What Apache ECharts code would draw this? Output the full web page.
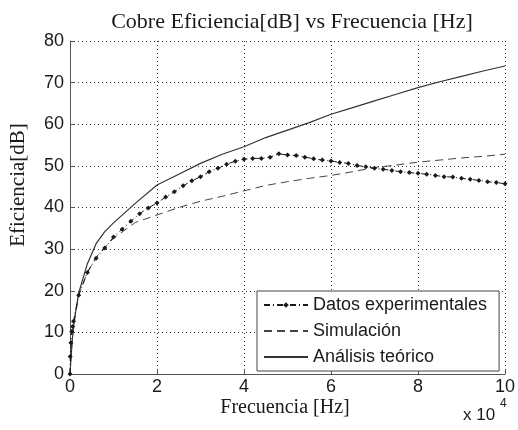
<!DOCTYPE html>
<html>
<head>
<meta charset="utf-8">
<script src="https://cdn.jsdelivr.net/npm/echarts@6/dist/echarts.min.js"></script>
<style>
  html, body { margin: 0; padding: 0; background: #fff; }
  #chart { width: 518px; height: 430px; }
</style>
</head>
<body>
<div id="chart"></div>
<script>
// frequencies in Hz, efficiency in dB
const expFreq = [0, 50, 200, 400, 600, 800, 2000, 4000, 6000, 8000, 10000, 12000, 14000, 16000, 18000,
  20000, 22000, 24000, 26000, 28000, 30000, 32000, 34000, 36000, 38000, 40000, 42000, 44000, 46000,
  48000, 50000, 52000, 54000, 56000, 58000, 60000, 62000, 64000, 66000, 68000, 70000, 72000, 74000,
  76000, 78000, 80000, 82000, 84000, 86000, 88000, 90000, 92000, 94000, 96000, 98000, 100000]
const expVals = [0, 4.2, 7.5, 10.2, 11.4, 12.7, 18.9, 24.4, 27.8, 30.3, 32.9, 34.8, 36.7, 38.5, 39.9,
  41.1, 42.5, 43.8, 45.2, 46.4, 47.4, 48.6, 49.4, 50.4, 51.1, 51.6, 51.8, 51.8, 52.1,
  52.9, 52.6, 52.5, 52.1, 51.7, 51.4, 51.2, 50.8, 50.6, 50.1, 49.8, 49.4, 49.2, 48.9,
  48.6, 48.4, 48.2, 48.0, 47.7, 47.4, 47.3, 47.0, 46.8, 46.5, 46.2, 46.0, 45.7]

const simFreq = [0, 500, 1000, 2000, 4000, 6000, 8000, 10000, 15000, 20000, 25000, 30000, 35000,
  40000, 45000, 50000, 55000, 60000, 65000, 70000, 75000, 80000, 85000, 90000, 95000, 100000]
const simVals = [0, 8, 12.5, 19, 24.5, 28, 30.5, 32.6, 36.4, 38.2, 40.0, 41.5, 42.7,
  44.0, 45.3, 46.2, 47.0, 47.7, 48.6, 49.6, 50.2, 50.9, 51.4, 51.9, 52.3, 52.8]

const teoFreq = [0, 500, 1000, 2000, 4000, 6000, 8000, 10000, 15000, 20000, 25000, 30000, 35000,
  40000, 45000, 50000, 55000, 60000, 65000, 70000, 75000, 80000, 85000, 90000, 95000, 100000]
const teoVals = [0, 8, 13, 19.5, 26.5, 31.3, 34.2, 36.3, 41.0, 45.4, 48.0, 50.6, 52.8,
  54.6, 56.8, 58.6, 60.4, 62.4, 64.0, 65.6, 67.2, 68.8, 70.2, 71.5, 72.8, 74.0]

const seriesNames = ['Datos experimentales', 'Simulación', 'Análisis teórico']
const xTicks = [0, 2, 4, 6, 8, 10]

const zip = (xs, ys) => xs.map((x, i) => [x, ys[i]])

const chart = echarts.init(document.getElementById('chart'))

const serif = '"Liberation Serif", "DejaVu Serif", serif'
const sans = '"Liberation Sans", Arial, sans-serif'

const option = {
  backgroundColor: '#fff',
  animation: false,
  title: {
    text: 'Cobre Eficiencia[dB] vs Frecuencia [Hz]',
    left: 287,
    top: 6,
    textAlign: 'center',
    textStyle: { fontFamily: serif, fontSize: 22, fontWeight: 'normal', color: '#1a1a1a' }
  },
  grid: { left: 70, right: 13, top: 41, bottom: 56 },
  legend: {
    orient: 'vertical',
    left: 257,
    top: 291,
    width: 245,
    padding: [5, 12, 5, 6],
    itemWidth: 44,
    itemHeight: 7,
    itemGap: 8,
    backgroundColor: '#fff',
    borderColor: '#444',
    borderWidth: 1,
    borderRadius: 0,
    data: [
      { name: seriesNames[0] },
      { name: seriesNames[1], itemStyle: { opacity: 0 } },
      { name: seriesNames[2], itemStyle: { opacity: 0 } }
    ],
    textStyle: { fontFamily: sans, fontSize: 18, color: '#1a1a1a', lineHeight: 18 }
  },
  xAxis: {
    type: 'value',
    min: 0,
    max: 100000,
    interval: 20000,
    axisLine: { onZero: false, lineStyle: { color: '#555', width: 1 } },
    axisTick: { inside: true, length: 5, lineStyle: { color: '#555' } },
    axisLabel: {
      fontFamily: sans, fontSize: 18, color: '#1a1a1a', margin: 4,
      formatter: v => String(xTicks[Math.round(v / 20000)])
    },
    splitLine: { show: true, lineStyle: { color: '#333', type: [1, 3], width: 1 } }
  },
  yAxis: {
    type: 'value',
    min: 0,
    max: 80,
    interval: 10,
    axisLine: { show: true, onZero: false, lineStyle: { color: '#555', width: 1 } },
    axisTick: { show: true, inside: true, length: 5, lineStyle: { color: '#555' } },
    axisLabel: { fontFamily: sans, fontSize: 18, color: '#1a1a1a', margin: 6 },
    splitLine: { show: true, lineStyle: { color: '#333', type: [1, 3], width: 1 } }
  },
  graphic: [
    {
      type: 'text',
      x: 18, y: 185,
      rotation: Math.PI / 2,
      style: {
        text: 'Eficiencia[dB]', font: '21px ' + serif, fill: '#1a1a1a',
        textAlign: 'center', textVerticalAlign: 'middle'
      }
    },
    {
      type: 'text',
      x: 285, y: 408,
      style: {
        text: 'Frecuencia [Hz]', font: '20px ' + serif, fill: '#1a1a1a',
        textAlign: 'center', textVerticalAlign: 'middle'
      }
    },
    {
      type: 'text',
      x: 463, y: 407,
      style: {
        text: 'x 10',
        fontFamily: sans, fontSize: 17, fill: '#1a1a1a'
      }
    },
    {
      type: 'text',
      x: 500, y: 398,
      style: {
        text: '4',
        fontFamily: sans, fontSize: 12, fill: '#1a1a1a'
      }
    }
  ],
  series: [
    {
      name: seriesNames[0],
      type: 'line',
      data: zip(expFreq, expVals),
      symbol: 'diamond',
      symbolSize: 5,
      itemStyle: { color: '#1a1a1a' },
      lineStyle: { color: '#1a1a1a', width: 1, type: [6, 3, 1, 3] },
      z: 4
    },
    {
      name: seriesNames[1],
      type: 'line',
      data: zip(simFreq, simVals),
      showSymbol: false,
      symbol: 'none',
      itemStyle: { color: '#444' },
      lineStyle: { color: '#444', width: 1, type: [8, 5] },
      z: 3
    },
    {
      name: seriesNames[2],
      type: 'line',
      data: zip(teoFreq, teoVals),
      showSymbol: false,
      symbol: 'none',
      itemStyle: { color: '#333' },
      lineStyle: { color: '#333', width: 1.2 },
      z: 2
    }
  ]
}

chart.setOption(option)
</script>
</body>
</html>
